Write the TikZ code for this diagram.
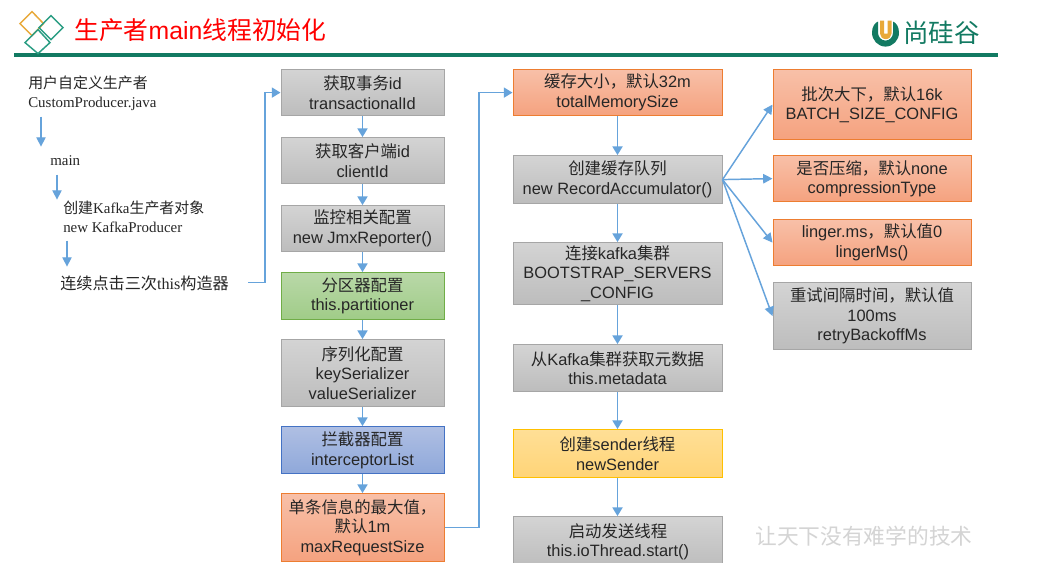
\documentclass[tikz,border=0pt]{standalone}
\usepackage{fontspec}
\setmainfont{Liberation Sans}
\newfontfamily\lserif{Liberation Serif}
\newfontfamily\cjk{Noto Sans CJK SC}
\newcommand\zh[1]{{\cjk #1}}
\usetikzlibrary{arrows.meta}
\definecolor{linkblue}{HTML}{66A3DB}
\definecolor{teal1}{HTML}{127A62}
\tikzset{
  box/.style={draw,line width=0.75pt,inner sep=0pt,align=center,text=black!85,
    font=\fontsize{12.3}{14.7}\selectfont,minimum width=#1*0.75pt},
  graybox/.style={box=#1,draw=black!35,top color=black!17,bottom color=black!26},
  orangebox/.style={box=#1,draw=fillorangeD,top color=fillorangeT,bottom color=fillorangeB},
  greenbox/.style={box=#1,draw=fillgreenD,top color=fillgreenT,bottom color=fillgreenB},
  bluebox/.style={box=#1,draw=fillblueD,top color=fillblueT,bottom color=fillblueB},
  yellowbox/.style={box=#1,draw=fillyellowD,top color=fillyellowT,bottom color=fillyellowB},
  flow/.style={draw=linkblue,line width=1.3pt,-{Triangle[width=7.5pt,length=6.5pt]}},
  flowthin/.style={draw=linkblue,line width=1.1pt,-{Triangle[width=7pt,length=7pt]}},
  plain/.style={inner sep=0pt,align=left,text=black!85,font=\lserif\fontsize{11.2}{14.4}\selectfont},
  diamondline/.style={line width=1.1pt,line join=miter}
}
\definecolor{fillorangeD}{HTML}{ED7D31}
\definecolor{fillorangeT}{HTML}{F8C0A8}
\definecolor{fillorangeB}{HTML}{F5A27F}
\definecolor{fillgreenD}{HTML}{70AD47}
\definecolor{fillgreenT}{HTML}{B9D8A8}
\definecolor{fillgreenB}{HTML}{A0CC88}
\definecolor{fillblueD}{HTML}{4472C4}
\definecolor{fillblueT}{HTML}{AFBFE3}
\definecolor{fillblueB}{HTML}{8FA8DA}
\definecolor{fillyellowD}{HTML}{FFC000}
\definecolor{fillyellowT}{HTML}{FFDF96}
\definecolor{fillyellowB}{HTML}{FFD477}
\definecolor{diamondorange}{HTML}{E8A93A}
\definecolor{diamondteal}{HTML}{2A9D83}
\begin{document}
\begin{tikzpicture}[x=0.75pt,y=-0.75pt]
\useasboundingbox[fill=white] (0,-0.6) rectangle (1042,569.4);
% header
\draw[line width=3pt,teal1] (14,54.5) coordinate (ruleL) -- (998,54.5) coordinate (ruleR);
\draw[diamondline,diamondorange] (32,11)--(43.5,23)--(32,35)--(20,23)--cycle;
\draw[diamondline,diamondteal] (51,15)--(63,27)--(51,39)--(39,27)--cycle;
\draw[diamondline,diamondteal] (38,29)--(50,42)--(38,53)--(25,42)--cycle;
\node[anchor=west,inner sep=0pt,text=red,font=\fontsize{18.6}{22}\selectfont] (title) at (74,30) {\zh{生产者}main\zh{线程初始化}};
% logo
\fill[teal1] (872,32) arc[start angle=180,end angle=0,x radius=13.5,y radius=14] -- (899,32)
   .. controls (899,26) and (896,22) .. (893,21)
   -- (893,32) arc[start angle=0,end angle=180,x radius=7.5,y radius=8]
   -- (878,21) .. controls (875,22) and (872,26) .. (872,32) -- cycle;
\fill[diamondorange] (880,20) -- (884,20) -- (884,33) -- (887.5,33) -- (887.5,20) -- (891.5,20) -- (891.5,33) arc[start angle=0,end angle=180,x radius=5.75,y radius=5.5] -- cycle;
\node[anchor=west,inner sep=0pt,text=teal1,font=\fontsize{19.2}{22}\selectfont] (logo) at (903,32) {\zh{尚硅谷}};
% left text
\node[plain,anchor=west] (custom) at (28,93) {\zh{用户自定义生产者}\\CustomProducer.java};
\node[plain,anchor=west] (mainn) at (50,160) {main};
\node[plain,anchor=west] (create) at (63,216) {\zh{创建}Kafka\zh{生产者对象}\\new KafkaProducer};
\node[plain,anchor=west,font=\lserif\fontsize{12.1}{14.4}\selectfont] (clicks) at (60,283) {\zh{连续点击三次}this\zh{构造器}};
\coordinate (a1s) at (41,116); \coordinate (a1e) at (41,146);
\coordinate (a2s) at (57,174); \coordinate (a2e) at (57,199);
\coordinate (a3s) at (67,240); \coordinate (a3e) at (67,266);
\coordinate (clickend) at (248,282);
\draw[flowthin] (a1s) -- (a1e);
\draw[flowthin] (a2s) -- (a2e);
\draw[flowthin] (a3s) -- (a3e);
% column 1
\node[graybox=163,minimum height=46*0.75pt] (c1a) at (362.5,92) {\zh{获取事务}id\\transactionalId};
\node[graybox=163,minimum height=46*0.75pt] (c1b) at (362.5,160) {\zh{获取客户端}id\\clientId};
\node[graybox=163,minimum height=46*0.75pt] (c1c) at (362.5,228) {\zh{监控相关配置}\\new JmxReporter()};
\node[greenbox=163,minimum height=47*0.75pt] (c1d) at (362.5,295.5) {\zh{分区器配置}\\this.partitioner};
\node[graybox=163,minimum height=67*0.75pt] (c1e) at (362.5,372.5) {\zh{序列化配置}\\keySerializer\\valueSerializer};
\node[bluebox=163,minimum height=47*0.75pt] (c1f) at (362.5,449.5) {\zh{拦截器配置}\\interceptorList};
\node[orangebox=163,minimum height=68*0.75pt] (c1g) at (362.5,527) {\zh{单条信息的最大值，}\\\zh{默认}1m\\maxRequestSize};
% column 2
\node[orangebox=209,minimum height=46*0.75pt] (c2a) at (617.5,92) {\zh{缓存大小，默认}32m\\totalMemorySize};
\node[graybox=209,minimum height=48*0.75pt] (c2b) at (617.5,179) {\zh{创建缓存队列}\\new RecordAccumulator()};
\node[graybox=209,minimum height=62*0.75pt] (c2c) at (617.5,273) {\zh{连接}kafka\zh{集群}\\BOOTSTRAP\_SERVERS\\\_CONFIG};
\node[graybox=209,minimum height=47*0.75pt] (c2d) at (617.5,367.5) {\zh{从}Kafka\zh{集群获取元数据}\\this.metadata};
\node[yellowbox=209,minimum height=48*0.75pt] (c2e) at (617.5,453) {\zh{创建}sender\zh{线程}\\newSender};
\begin{scope}
\clip (500,510) rectangle (740,561.5);
\node[graybox=209,minimum height=50*0.75pt] (c2f) at (618,541) {\zh{启动发送线程}\\this.ioThread.start()};
\end{scope}
% column 3
\node[orangebox=198,minimum height=70*0.75pt] (c3a) at (872,104) {\zh{批次大下，默认}16k\\BATCH\_SIZE\_CONFIG};
\node[orangebox=198,minimum height=46*0.75pt] (c3b) at (872,178) {\zh{是否压缩，默认}none\\compressionType};
\node[orangebox=198,minimum height=46*0.75pt] (c3c) at (872,242) {linger.ms\zh{，默认值}0\\lingerMs()};
\node[graybox=198,minimum height=67*0.75pt] (c3d) at (872,315.5) {\zh{重试间隔时间，默认值}\\100ms\\retryBackoffMs};
% connectors
\draw[flow] (c1a) -- (c1b);
\draw[flow] (c1b) -- (c1c);
\draw[flow] (c1c) -- (c1d);
\draw[flow] (c1d) -- (c1e);
\draw[flow] (c1e) -- (c1f);
\draw[flow] (c1f) -- (c1g);
\draw[flow] (c2a) -- (c2b);
\draw[flow] (c2b) -- (c2c);
\draw[flow] (c2c) -- (c2d);
\draw[flow] (c2d) -- (c2e);
\draw[flow] (c2e.south) -- (c2e.south |- c2f.north);
\draw[flow] (clickend) -- (265,282) -- (265,92) -- (c1a.west);
\draw[flow] (c1g.east) -- (479,527) -- (479,92) -- (c2a.west);
\draw[flowthin] (c2b.east) -- (c3a.west);
\draw[flowthin] (c2b.east) -- (c3b.west);
\draw[flowthin] (c2b.east) -- (c3c.west);
\draw[flowthin] (c2b.east) -- (c3d.west);
% watermark
\node[anchor=west,inner sep=0pt,text=black!17,font=\fontsize{16.3}{18}\selectfont] (motto) at (755,536) {\zh{让天下没有难学的技术}};
\end{tikzpicture}
\end{document}
